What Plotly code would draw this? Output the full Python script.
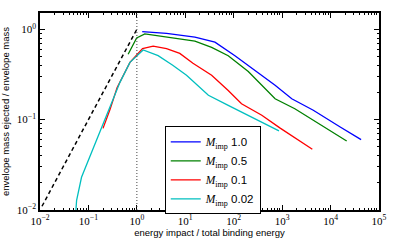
import plotly.graph_objects as go

# ---- data ----
blue_x = [1.29, 4.1, 15.8, 41, 106, 277, 715, 1580, 4400, 15800, 42700]
blue_y = [0.94, 0.90, 0.82, 0.72, 0.51, 0.35, 0.24, 0.17, 0.127, 0.083, 0.060]

green_x = [0.66, 0.99, 1.46, 4.1, 15.8, 35, 77, 200, 380, 715, 1830, 4400, 21500]
green_y = [0.53, 0.80, 0.89, 0.82, 0.74, 0.63, 0.51, 0.34, 0.24, 0.17, 0.132, 0.098, 0.058]

red_x = [0.20, 0.28, 0.39, 0.56, 0.72, 1.31, 2.17, 4.1, 7.7, 14.4, 35, 77, 145, 380, 895, 4200]
red_y = [0.080, 0.13, 0.225, 0.33, 0.43, 0.61, 0.65, 0.61, 0.54, 0.42, 0.31, 0.21, 0.150, 0.112, 0.081, 0.047]

cyan_x = [0.055, 0.057, 0.072, 0.107, 0.172, 0.28, 0.45, 0.72, 1.35, 2.75, 5.5, 10.6, 20, 30, 77, 200, 860]
cyan_y = [0.0098, 0.0128, 0.023, 0.039, 0.073, 0.138, 0.26, 0.43, 0.59, 0.51, 0.40, 0.31, 0.23, 0.186, 0.144, 0.112, 0.075]

ref_x = [0.011, 1.0]
ref_y = [0.011, 1.0]

vline_x = 1.0

labels = ["1.0", "0.5", "0.1", "0.02"]
colors = ["#0000ff", "#008000", "#ff0000", "#00bfbf"]

x_tick_vals = [1e-2, 1e-1, 1e0, 1e1, 1e2, 1e3, 1e4, 1e5]
x_tick_text = ["10<sup>−2</sup>", "10<sup>−1</sup>", "10<sup>0</sup>", "10<sup>1</sup>",
               "10<sup>2</sup>", "10<sup>3</sup>", "10<sup>4</sup>", "10<sup>5</sup>"]
y_tick_vals = [1e-2, 1e-1, 1e0]
y_tick_text = ["10<sup>−2</sup>", "10<sup>−1</sup>", "10<sup>0</sup>"]

x_title = "energy impact / total binding energy"
y_title = "envelope mass ejected / envelope mass"

SERIF = "Liberation Serif"
SANS = "Liberation Sans"

fig = go.Figure()

fig.add_trace(go.Scatter(x=ref_x, y=ref_y, mode="lines", showlegend=False,
                         line=dict(color="black", width=1.5, dash="4px,3px")))

series = [(blue_x, blue_y), (green_x, green_y), (red_x, red_y), (cyan_x, cyan_y)]
for (xs, ys), lab, col in zip(series, labels, colors):
    name = ('<span style="font-family:%s"><i>M</i><sub>imp</sub></span> %s' % (SERIF, lab))
    fig.add_trace(go.Scatter(x=xs, y=ys, mode="lines", name=name,
                             line=dict(color=col, width=1.3)))

fig.add_vline(x=vline_x, line=dict(color="#444444", width=1, dash="1px,2px"))

axis_common = dict(
    type="log", showline=True, linecolor="black", linewidth=1.5, mirror="allticks",
    ticks="inside", ticklen=5, tickcolor="black", showgrid=False, zeroline=False,
    automargin=False,
    tickfont=dict(family=SERIF, size=11, color="black"),
    minor=dict(ticks="inside", ticklen=2.5, tickcolor="black", dtick="D1", showgrid=False),
)

fig.update_xaxes(range=[-2, 5], tickvals=x_tick_vals, ticktext=x_tick_text,
                 title=dict(text=x_title, font=dict(family=SANS, size=9.5, color="black"), standoff=2),
                 **axis_common)
fig.update_yaxes(range=[-2, 0.18], tickvals=y_tick_vals, ticktext=y_tick_text,
                 title=dict(text=y_title, font=dict(family=SANS, size=9.5, color="black"), standoff=6),
                 **axis_common)

fig.update_layout(
    width=399, height=249,
    margin=dict(l=40, r=20, t=13, b=39),
    plot_bgcolor="white", paper_bgcolor="white",
    legend=dict(x=0.368, y=0.425, xanchor="left", yanchor="top",
                bgcolor="white", bordercolor="black", borderwidth=1,
                font=dict(family=SANS, size=11.5, color="black"),
                tracegroupgap=0, itemwidth=30),
)

fig.write_html("out.html", config={"displayModeBar": False},
               post_script="document.body.style.margin='0';document.body.style.overflow='hidden';")
